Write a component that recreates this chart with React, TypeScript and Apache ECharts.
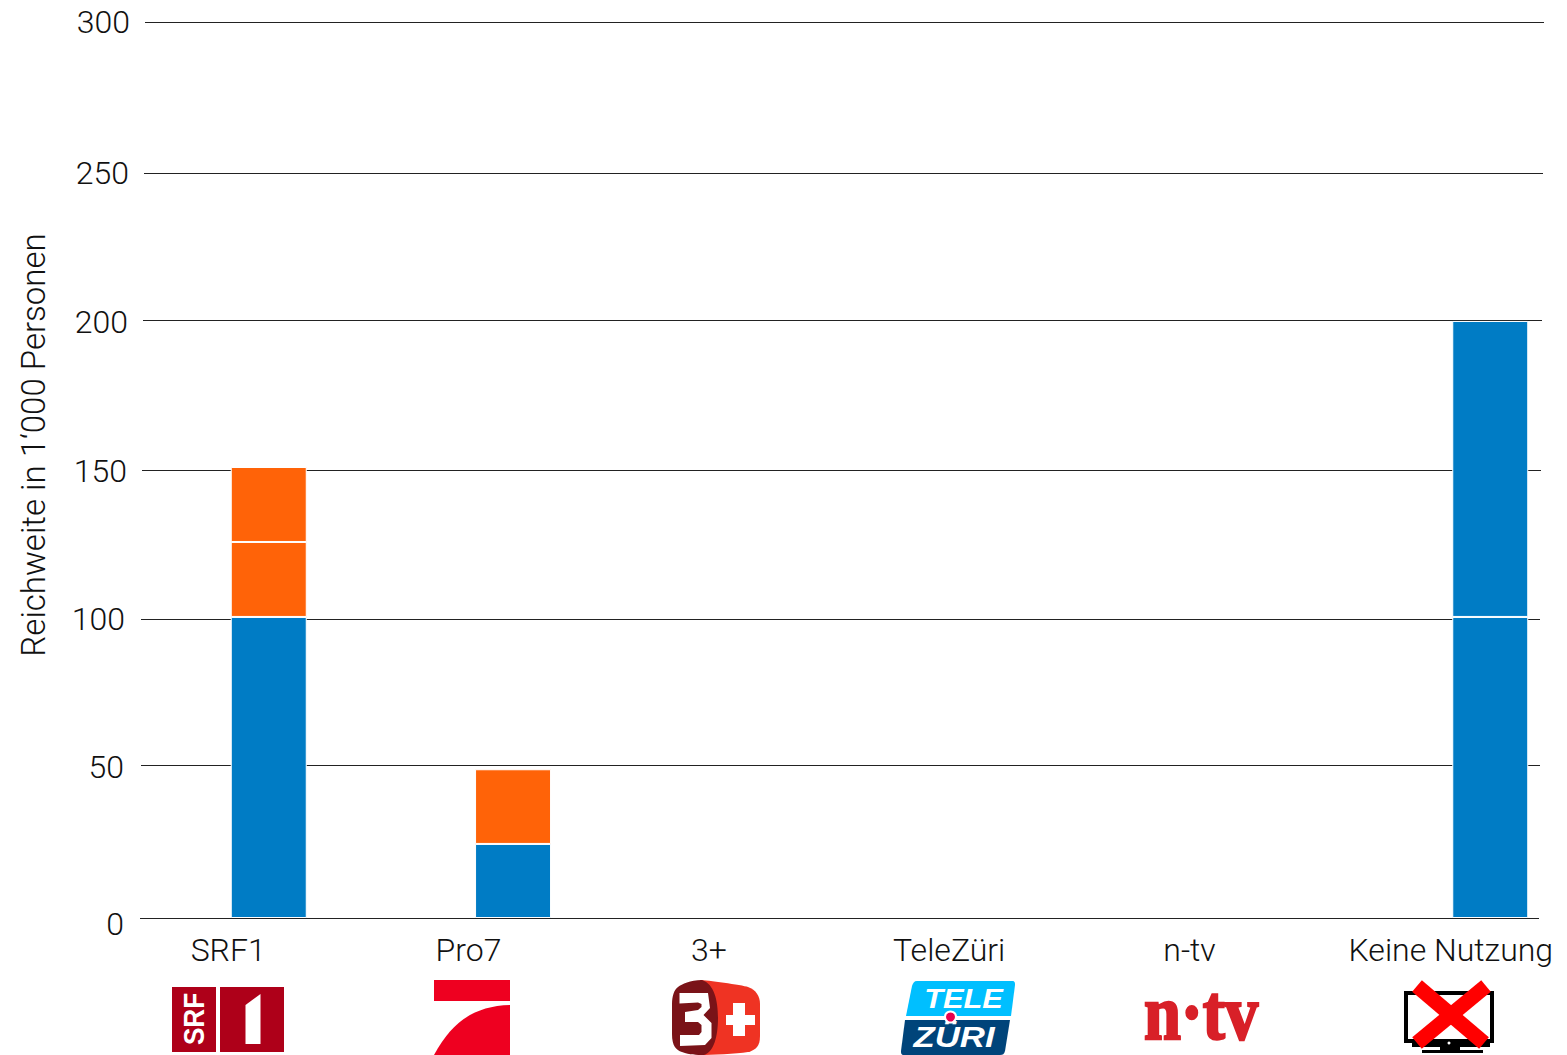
import React, { useEffect, useRef } from "react";
import * as echarts from "echarts";

const categories = ["SRF1", "Pro7", "3+", "TeleZüri", "n-tv", "Keine Nutzung"];
const yTicks = [0, 50, 100, 150, 200, 250, 300];
const blueLower = [100.8, 24.8, null, null, null, 100.8];
const blueUpper = [null, null, null, null, null, 99.1];
const orangeLower = [25.1, 25, null, null, null, null];
const orangeUpper = [25.1, null, null, null, null, null];
const yTitle = "Reichweite in 1‘000 Personen";

const BLUE = "#007cc5";
const ORANGE = "#ff6308";
const FONT = "Roboto";
const INK = "#111";

// hand-drawn look of the reference: each tick's nudges (pixels), by tick value
const lineNudge: Record<number, { dx: number; dy: number }> = {
  0: { dx: -2, dy: 0 },
  50: { dx: -1, dy: -3.7 },
  100: { dx: -1, dy: 0 },
  150: { dx: 0, dy: 0 },
  200: { dx: 1, dy: -0.7 },
  250: { dx: 2, dy: 1.7 },
  300: { dx: 3, dy: 0 },
};
const labelNudge: Record<number, { right: number; down: number }> = {
  0: { right: 6, down: 6 },
  50: { right: 6, down: -2 },
  100: { right: 5, down: 0 },
  150: { right: 3, down: 1 },
  200: { right: 2, down: 1 },
  250: { right: 1, down: 2 },
  300: { right: 0, down: 0 },
};

const shapes: Record<string, string> = {
  pro7curve: "M510 1005 C474 1006 452 1022 434 1055 L510 1055 Z",
  threeRed:
    "M700 980 C706 980 742 985 748 987 C756 990 760 996 760 1004 L760 1036 C760 1046 756 1050 748 1052 C736 1054 712 1055 700 1055 Z",
  threeDark:
    "M702 980 C690 980 682 984 678 987 C674 990 672 996 672 1004 L672 1034 C672 1046 676 1050 682 1052 C690 1055 696 1055 704 1055 C714 1052 718 1036 718 1018 C718 1000 714 984 702 980 Z",
  threeGlyph:
    "M679.5 993 L708 993 L710 1008 L703.5 1015 L711.5 1023 L711.5 1038 L705 1045 L680 1046 L680 1035 L699 1035 L701.5 1032 L701.5 1025 L698 1022 L685 1022 L685 1012 L698 1010 L701.5 1007 L701.5 1004 L698 1002.5 L679.5 1003.5 Z",
  teleTop:
    "M917 981 L1012 981 C1015 981 1015 983 1015 985 L1011 1016 L906 1016 L912 986 C913 983 914 981 917 981 Z",
  teleBottom:
    "M905 1020 L1010 1020 L1005 1051 C1004 1054 1003 1055 1000 1055 L904 1055 C901 1055 901 1053 901 1051 Z",
};
Object.keys(shapes).forEach((k) =>
  echarts.graphic.registerShape(k, echarts.graphic.extendPath(shapes[k], {}))
);

const logoFill = (type: string, fill: string) => ({
  type,
  x: 0,
  y: 0,
  style: { fill },
});
const rect = (x: number, y: number, width: number, height: number, fill: string) => ({
  type: "rect",
  shape: { x, y, width, height },
  style: { fill },
});
const logoText = (
  x: number,
  y: number,
  text: string,
  font: string,
  fill: string,
  extra: object = {},
  styleExtra: object = {}
) => ({
  type: "text",
  x,
  y,
  style: { text, font, fill, align: "center", verticalAlign: "middle", ...styleExtra },
  ...extra,
});

const logos = [
  // SRF 1
  rect(172, 987, 44, 65, "#ae0019"),
  rect(220, 987, 64, 65, "#ae0019"),
  { type: "polygon", shape: { points: [[260.5, 994], [245.5, 1005], [245.5, 1044], [260.5, 1044]] }, style: { fill: "#fff" } },
  logoText(194, 1019, "SRF", "bold 30px 'Liberation Sans'", "#fff", { rotation: Math.PI / 2, scaleX: 0.87 }),
  // ProSieben
  rect(434, 980, 76, 21, "#ee0020"),
  logoFill("pro7curve", "#ee0020"),
  // 3+
  logoFill("threeRed", "#ef3323"),
  logoFill("threeDark", "#7a1318"),
  logoFill("threeGlyph", "#fff"),
  rect(733, 1003, 12, 33, "#fff"),
  rect(726, 1015, 29, 10, "#fff"),
  // TeleZüri
  logoFill("teleTop", "#00bfff"),
  logoFill("teleBottom", "#00447a"),
  logoText(963.5, 998, "TELE", "italic bold 28px 'Liberation Sans'", "#fff", { scaleX: 1.1 }),
  logoText(954, 1037, "ZÜRI", "italic bold 29px 'Liberation Sans'", "#fff", { scaleX: 1.2 }),
  { type: "circle", shape: { cx: 950.5, cy: 1017, r: 5.5 }, style: { fill: "#e8004f", stroke: "#fff", lineWidth: 2 } },
  // n-tv
  logoText(1201, 1013, "n·tv", "bold 78px 'Liberation Serif'", "#d82028", { scaleX: 0.85 }, { stroke: "#d82028", lineWidth: 2.5 }),
  // Keine Nutzung
  { type: "rect", shape: { x: 1406, y: 993, width: 86, height: 48 }, style: { fill: "#fff", stroke: "#000", lineWidth: 4 } },
  rect(1412, 1040, 78, 7, "#000"),
  rect(1440, 1046, 20, 5, "#000"),
  rect(1422, 1050, 61, 3, "#000"),
  { type: "circle", shape: { cx: 1449, cy: 1043, r: 1.5 }, style: { fill: "#fff" } },
  { type: "line", shape: { x1: 1417, y1: 986, x2: 1484, y2: 1043 }, style: { stroke: "#ff0000", lineWidth: 15 } },
  { type: "line", shape: { x1: 1486, y1: 986, x2: 1417, y2: 1043 }, style: { stroke: "#ff0000", lineWidth: 15 } },
];

const barSeries = (data: (number | null)[], color: string) => ({
  type: "bar",
  stack: "total",
  xAxisIndex: 0,
  yAxisIndex: 0,
  data,
  barWidth: 76,
  itemStyle: { color, borderColor: "#fff", borderWidth: 1 },
  silent: true,
  z: 3,
});

const textBase = { color: INK, fontFamily: FONT, fontWeight: 300, fontSize: 32 };

export default function App() {
  const ref = useRef<HTMLDivElement>(null);
  useEffect(() => {
    const chart = echarts.init(ref.current!, undefined, { renderer: "svg" });
    const hiddenAxis = {
      axisLine: { show: false },
      axisTick: { show: false },
      axisLabel: { show: false },
      splitLine: { show: false },
    };
    const rich: Record<string, object> = {};
    yTicks.forEach((v) => {
      const n = labelNudge[v];
      rich["t" + v] = {
        ...textBase,
        padding: [Math.max(n.down, 0) * 2, n.right, Math.max(-n.down, 0) * 2, 0],
      };
    });
    chart.setOption({
      animation: false,
      backgroundColor: "#fff",
      grid: [
        { left: 146.6, top: 22, width: 1465.8, height: 896, outerBoundsMode: "none" },
        { left: 108, top: 918, width: 1442, height: 1, outerBoundsMode: "none" },
        { left: 142, top: 22, width: 1399, height: 896, outerBoundsMode: "none" },
      ],
      xAxis: [
        { type: "category", gridIndex: 0, data: categories, ...hiddenAxis },
        {
          type: "category",
          gridIndex: 1,
          data: categories.map((c, i) =>
            i === 5 ? { value: c, textStyle: { padding: [0, 0, 0, 42] } } : c
          ),
          axisLine: { show: false },
          axisTick: { show: false },
          axisLabel: { ...textBase, interval: 0, margin: 15 },
        },
        { type: "value", gridIndex: 2, min: 0, max: 1, ...hiddenAxis },
      ],
      yAxis: [
        { type: "value", gridIndex: 0, min: 0, max: 300, interval: 50, ...hiddenAxis },
        { type: "value", gridIndex: 1, show: false },
        {
          type: "value",
          gridIndex: 2,
          min: yTicks[0],
          max: yTicks[yTicks.length - 1],
          interval: 50,
          name: yTitle,
          nameLocation: "middle",
          nameGap: 92,
          nameRotate: 90,
          nameTextStyle: { ...textBase, fontSize: 33, padding: [0, 0, 0, 50] },
          axisLine: { show: false },
          axisTick: { show: false },
          axisLabel: {
            margin: 12,
            formatter: (v: number) => `{t${v}|${v}}`,
            rich,
          },
          splitLine: { show: false },
        },
      ],
      series: [
        {
          type: "custom",
          xAxisIndex: 2,
          yAxisIndex: 2,
          data: yTicks.map((v) => [0, v]),
          silent: true,
          clip: false,
          z: 1,
          renderItem: (params: any, api: any) => {
            const v = api.value(1);
            const n = lineNudge[v];
            const [x0, yRaw] = api.coord([0, v]);
            const [x1] = api.coord([1, v]);
            const y = Math.round(yRaw + n.dy) + 0.5;
            return {
              type: "line",
              shape: { x1: x0 + n.dx, y1: y, x2: x1 + n.dx, y2: y },
              style: { stroke: "#222", lineWidth: 1 },
            };
          },
        },
        barSeries(blueLower, BLUE),
        barSeries(blueUpper, BLUE),
        barSeries(orangeLower, ORANGE),
        barSeries(orangeUpper, ORANGE),
      ],
      graphic: { elements: logos },
    });
    return () => chart.dispose();
  }, []);
  return (
    <div
      ref={ref}
      style={{ position: "absolute", left: 0, top: 0, width: 1567, height: 1055 }}
    />
  );
}
